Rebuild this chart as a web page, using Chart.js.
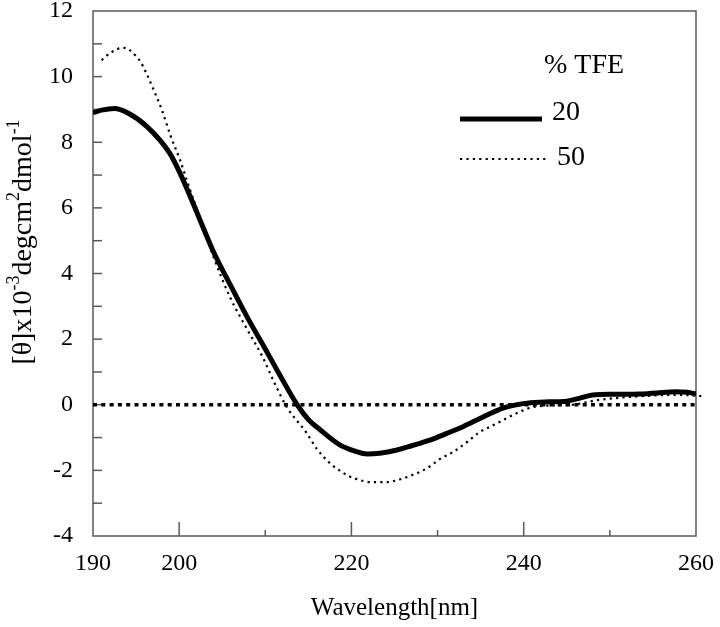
<!DOCTYPE html>
<html>
<head>
<meta charset="utf-8">
<script src="https://cdn.jsdelivr.net/npm/chart.js@4.4.1/dist/chart.umd.min.js"></script>
<style>
  html, body { margin: 0; padding: 0; background: #fff; }
  #wrap { width: 720px; height: 627px; }
</style>
</head>
<body>
<div id="wrap"><canvas id="myChart" width="720" height="627"></canvas></div>
<script>
// 20 % TFE (solid)
const wl20 = [190.0, 191.0, 192.5, 194.0, 196.3, 198.9, 200.1, 202.0, 203.9, 206.0, 207.9, 210.0, 211.7, 213.7, 215.0, 216.4, 218.7, 220.5, 221.8, 223.5, 225.3, 227.0, 229.1, 231.0, 233.0, 234.9, 237.6, 240.4, 243.0, 245.0, 246.5, 248.0, 250.5, 253.5, 256.0, 257.5, 259.0, 260.0];
const theta20 = [8.90, 8.98, 9.03, 8.90, 8.47, 7.67, 7.06, 5.90, 4.71, 3.62, 2.67, 1.70, 0.90, 0.00, -0.45, -0.77, -1.23, -1.42, -1.50, -1.47, -1.38, -1.25, -1.08, -0.88, -0.66, -0.42, -0.10, 0.05, 0.09, 0.11, 0.20, 0.30, 0.32, 0.33, 0.37, 0.40, 0.38, 0.33];

// 50 % TFE (dotted)
const wl50 = [191.0, 192.0, 193.5, 194.3, 194.9, 195.5, 196.2, 197.0, 198.0, 199.0, 200.1, 201.2, 202.4, 204.0, 205.9, 208.0, 209.7, 211.0, 212.5, 214.8, 216.0, 217.5, 219.0, 220.2, 222.5, 224.0, 225.3, 227.0, 228.8, 230.3, 231.8, 233.5, 234.9, 236.5, 238.1, 239.5, 241.1, 243.5, 245.7, 247.0, 248.5, 251.0, 253.5, 256.0, 258.1, 260.8];
const theta50 = [10.50, 10.72, 10.88, 10.80, 10.65, 10.46, 10.10, 9.62, 8.98, 8.20, 7.46, 6.60, 5.72, 4.50, 3.28, 2.25, 1.45, 0.70, -0.07, -0.86, -1.35, -1.78, -2.07, -2.23, -2.36, -2.36, -2.30, -2.15, -1.93, -1.65, -1.44, -1.12, -0.83, -0.62, -0.40, -0.22, -0.07, -0.02, 0.00, 0.06, 0.14, 0.21, 0.26, 0.29, 0.30, 0.26];

// zero reference line
const wlBase = [190, 260];
const thetaBase = [0, 0];

const seriesLabels = ['20', '50'];
const legendTitle = '% TFE';
const xTicks = [190, 200, 220, 240, 260];
const xMinor = [200, 210, 220, 230, 240, 250];
const yMin = -4, yMax = 12, yStep = 2;

const serif = "'Liberation Serif', 'Times New Roman', serif";

function pts(xs, ys) {
  return xs.map((x, i) => ({ x: x, y: ys[i] }));
}

function line(ctx, x1, y1, x2, y2) {
  ctx.beginPath();
  ctx.moveTo(x1, y1);
  ctx.lineTo(x2, y2);
  ctx.stroke();
}

// frame + inward tick marks, y title, legend
const framePlugin = {
  id: 'frame',
  beforeDatasetsDraw(chart) {
    const { ctx, chartArea: a, scales: { x, y } } = chart;
    ctx.save();
    ctx.strokeStyle = '#5a5a5a';
    ctx.lineWidth = 1.5;
    ctx.strokeRect(a.left, a.top, a.right - a.left, a.bottom - a.top);
    for (let v = yMin + 1; v < yMax; v++) {
      const py = y.getPixelForValue(v);
      line(ctx, a.left, py, a.left + 9, py);
    }
    xMinor.forEach(v => {
      const px = x.getPixelForValue(v);
      const len = (v % 20 === 0) ? 14 : 6;
      line(ctx, px, a.bottom, px, a.bottom - len);
    });
    ctx.restore();
  },
  afterDraw(chart) {
    const { ctx } = chart;
    ctx.save();
    ctx.fillStyle = '#000';

    // y axis title with superscripts
    const parts = [
      ['[θ]x10', false], ['-3', true], ['degcm', false], ['2', true], ['dmol', false], ['-1', true]
    ];
    const big = '28px ' + serif, small = '18px ' + serif;
    let total = 0;
    parts.forEach(p => { ctx.font = p[1] ? small : big; total += ctx.measureText(p[0]).width; });
    ctx.translate(24, 242);
    ctx.rotate(-Math.PI / 2);
    ctx.textBaseline = 'middle';
    let cx = -total / 2;
    parts.forEach(p => {
      ctx.font = p[1] ? small : big;
      ctx.fillText(p[0], cx, p[1] ? -10 : 0);
      cx += ctx.measureText(p[0]).width;
    });
    ctx.setTransform(1, 0, 0, 1, 0, 0);

    // legend
    ctx.font = '28px ' + serif;
    ctx.textBaseline = 'middle';
    ctx.textAlign = 'left';
    ctx.fillText(legendTitle, 544, 66);
    ctx.fillText(seriesLabels[0], 552, 113);
    ctx.fillText(seriesLabels[1], 557, 158);
    ctx.strokeStyle = '#000';
    ctx.lineWidth = 5;
    line(ctx, 460, 119, 542, 119);
    ctx.lineWidth = 2.2;
    ctx.setLineDash([2.2, 4.2]);
    line(ctx, 460, 159, 548, 159);
    ctx.restore();
  }
};

new Chart(document.getElementById('myChart'), {
  type: 'line',
  data: {
    datasets: [
      {
        label: seriesLabels[0],
        data: pts(wl20, theta20),
        borderColor: '#000',
        borderWidth: 5,
        pointRadius: 0,
        cubicInterpolationMode: 'monotone',
        fill: false
      },
      {
        label: seriesLabels[1],
        data: pts(wl50, theta50),
        borderColor: '#000',
        borderWidth: 2.2,
        borderDash: [2.2, 4.2],
        pointRadius: 0,
        cubicInterpolationMode: 'monotone',
        fill: false,
        clip: 12
      },
      {
        label: 'baseline',
        data: pts(wlBase, thetaBase),
        borderColor: '#000',
        borderWidth: 3.5,
        borderDash: [4, 4.3],
        pointRadius: 0,
        fill: false
      }
    ]
  },
  options: {
    responsive: false,
    animation: false,
    devicePixelRatio: 1,
    layout: { padding: { top: 11, right: 24, left: 0, bottom: 0 } },
    plugins: {
      legend: { display: false },
      tooltip: { enabled: false }
    },
    scales: {
      x: {
        type: 'linear',
        min: 190,
        max: 260,
        afterBuildTicks: s => { s.ticks = xTicks.map(v => ({ value: v })); },
        afterFit: s => { s.height = 91; s.paddingLeft = 0; s.paddingRight = 0; },
        grid: { display: false, drawTicks: false },
        border: { display: false },
        ticks: { color: '#000', padding: 13, maxRotation: 0, autoSkip: false, font: { family: serif, size: 24 } },
        title: { display: true, text: 'Wavelength[nm]', color: '#000', padding: { top: 0, bottom: 4 }, font: { family: serif, size: 25 } }
      },
      y: {
        min: yMin,
        max: yMax,
        afterFit: s => { s.width = 93; s.paddingTop = 0; s.paddingBottom = 0; },
        grid: { display: false, drawTicks: false },
        border: { display: false },
        ticks: { stepSize: yStep, color: '#000', padding: 20, font: { family: serif, size: 24 } }
      }
    }
  },
  plugins: [framePlugin]
});
</script>
</body>
</html>
